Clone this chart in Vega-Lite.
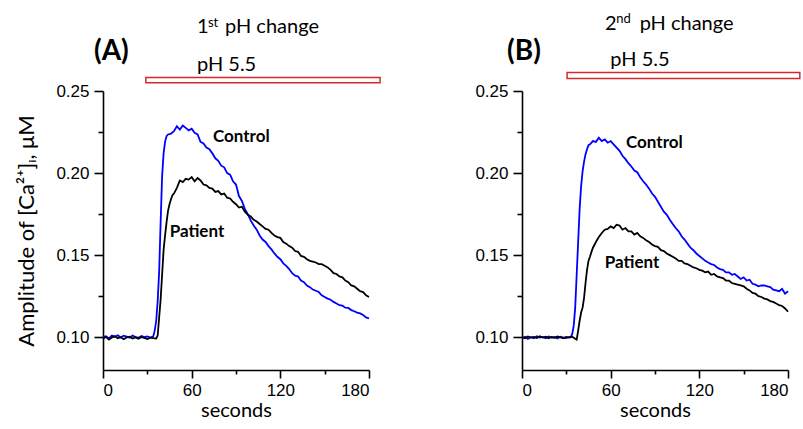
{
  "$schema": "https://vega.github.io/schema/vega-lite/v6.json",
  "padding": {"left": 15, "top": 12, "right": 0, "bottom": 0},
  "background": "white",
  "config": {
    "view": {"stroke": null},
    "axis": {"grid": false, "domainColor": "#000", "tickColor": "#000", "domainWidth": 1.6, "tickWidth": 1.6, "labelColor": "#000", "titleColor": "#000", "labelFont": "Liberation Sans", "labelFontSize": 17, "titleFont": "Lato", "titleFontWeight": "normal"}
  },
  "datasets": {
    "A": [
      {"g":"Control","t":0,"v":0.1000},{"g":"Control","t":2,"v":0.1006},{"g":"Control","t":4,"v":0.0992},{"g":"Control","t":6,"v":0.1010},{"g":"Control","t":8,"v":0.1003},{"g":"Control","t":10,"v":0.1012},{"g":"Control","t":12,"v":0.0998},{"g":"Control","t":14,"v":0.1009},{"g":"Control","t":16,"v":0.1004},{"g":"Control","t":18,"v":0.0996},{"g":"Control","t":20,"v":0.1010},{"g":"Control","t":22,"v":0.1001},{"g":"Control","t":24,"v":0.0997},{"g":"Control","t":26,"v":0.1007},{"g":"Control","t":28,"v":0.1000},{"g":"Control","t":30,"v":0.1004},{"g":"Control","t":32,"v":0.0998},{"g":"Control","t":34,"v":0.1005},
      {"g":"Control","t":35,"v":0.104},{"g":"Control","t":36,"v":0.110},{"g":"Control","t":37,"v":0.122},{"g":"Control","t":38,"v":0.140},{"g":"Control","t":39,"v":0.170},{"g":"Control","t":40,"v":0.198},{"g":"Control","t":41,"v":0.212},{"g":"Control","t":42,"v":0.219},{"g":"Control","t":43,"v":0.2225},{"g":"Control","t":44,"v":0.2235},{"g":"Control","t":46,"v":0.224},{"g":"Control","t":48,"v":0.2255},{"g":"Control","t":50,"v":0.2285},{"g":"Control","t":52,"v":0.2265},{"g":"Control","t":54,"v":0.229},{"g":"Control","t":56,"v":0.2275},{"g":"Control","t":58,"v":0.226},{"g":"Control","t":60,"v":0.227},{"g":"Control","t":62,"v":0.2245},{"g":"Control","t":64,"v":0.2235},{"g":"Control","t":66,"v":0.219},{"g":"Control","t":68,"v":0.218},{"g":"Control","t":70,"v":0.2155},{"g":"Control","t":72,"v":0.2145},{"g":"Control","t":74,"v":0.212},{"g":"Control","t":76,"v":0.209},{"g":"Control","t":78,"v":0.2075},{"g":"Control","t":80,"v":0.2045},{"g":"Control","t":82,"v":0.2035},{"g":"Control","t":84,"v":0.200},{"g":"Control","t":86,"v":0.199},{"g":"Control","t":88,"v":0.195},{"g":"Control","t":90,"v":0.193},{"g":"Control","t":92,"v":0.186},{"g":"Control","t":94,"v":0.183},{"g":"Control","t":96,"v":0.178},{"g":"Control","t":98,"v":0.175},{"g":"Control","t":100,"v":0.171},{"g":"Control","t":102,"v":0.168},{"g":"Control","t":104,"v":0.1655},{"g":"Control","t":106,"v":0.162},{"g":"Control","t":108,"v":0.1595},{"g":"Control","t":110,"v":0.158},{"g":"Control","t":112,"v":0.1555},{"g":"Control","t":114,"v":0.1535},{"g":"Control","t":116,"v":0.151},{"g":"Control","t":118,"v":0.149},{"g":"Control","t":120,"v":0.1475},{"g":"Control","t":122,"v":0.145},{"g":"Control","t":124,"v":0.1435},{"g":"Control","t":126,"v":0.1415},{"g":"Control","t":128,"v":0.139},{"g":"Control","t":130,"v":0.1375},{"g":"Control","t":132,"v":0.137},{"g":"Control","t":134,"v":0.1345},{"g":"Control","t":136,"v":0.1335},{"g":"Control","t":138,"v":0.1315},{"g":"Control","t":140,"v":0.1305},{"g":"Control","t":142,"v":0.129},{"g":"Control","t":144,"v":0.1283},{"g":"Control","t":146,"v":0.1275},{"g":"Control","t":148,"v":0.1255},{"g":"Control","t":150,"v":0.1245},{"g":"Control","t":152,"v":0.1235},{"g":"Control","t":154,"v":0.1228},{"g":"Control","t":156,"v":0.1215},{"g":"Control","t":158,"v":0.1205},{"g":"Control","t":160,"v":0.1195},{"g":"Control","t":162,"v":0.1192},{"g":"Control","t":164,"v":0.118},{"g":"Control","t":166,"v":0.1178},{"g":"Control","t":168,"v":0.1165},{"g":"Control","t":170,"v":0.1158},{"g":"Control","t":172,"v":0.115},{"g":"Control","t":174,"v":0.1145},{"g":"Control","t":176,"v":0.1135},{"g":"Control","t":178,"v":0.112},{"g":"Control","t":180,"v":0.1115},
      {"g":"Patient","t":0,"v":0.0990},{"g":"Patient","t":2,"v":0.1002},{"g":"Patient","t":4,"v":0.0985},{"g":"Patient","t":6,"v":0.0998},{"g":"Patient","t":8,"v":0.1005},{"g":"Patient","t":10,"v":0.0993},{"g":"Patient","t":12,"v":0.1000},{"g":"Patient","t":14,"v":0.0988},{"g":"Patient","t":16,"v":0.0998},{"g":"Patient","t":18,"v":0.1003},{"g":"Patient","t":20,"v":0.0992},{"g":"Patient","t":22,"v":0.0999},{"g":"Patient","t":24,"v":0.0990},{"g":"Patient","t":26,"v":0.1001},{"g":"Patient","t":28,"v":0.0996},{"g":"Patient","t":30,"v":0.0989},{"g":"Patient","t":32,"v":0.0997},{"g":"Patient","t":34,"v":0.0994},{"g":"Patient","t":36,"v":0.0992},
      {"g":"Patient","t":37,"v":0.101},{"g":"Patient","t":38,"v":0.112},{"g":"Patient","t":39,"v":0.123},{"g":"Patient","t":40,"v":0.138},{"g":"Patient","t":41,"v":0.153},{"g":"Patient","t":42,"v":0.162},{"g":"Patient","t":43,"v":0.170},{"g":"Patient","t":44,"v":0.177},{"g":"Patient","t":45,"v":0.181},{"g":"Patient","t":46,"v":0.184},{"g":"Patient","t":47,"v":0.1865},{"g":"Patient","t":48,"v":0.1875},{"g":"Patient","t":50,"v":0.191},{"g":"Patient","t":52,"v":0.1955},{"g":"Patient","t":54,"v":0.1945},{"g":"Patient","t":56,"v":0.1965},{"g":"Patient","t":58,"v":0.196},{"g":"Patient","t":60,"v":0.1975},{"g":"Patient","t":62,"v":0.195},{"g":"Patient","t":64,"v":0.197},{"g":"Patient","t":66,"v":0.1955},{"g":"Patient","t":68,"v":0.193},{"g":"Patient","t":70,"v":0.1925},{"g":"Patient","t":72,"v":0.191},{"g":"Patient","t":74,"v":0.1905},{"g":"Patient","t":76,"v":0.1885},{"g":"Patient","t":78,"v":0.189},{"g":"Patient","t":80,"v":0.187},{"g":"Patient","t":82,"v":0.1875},{"g":"Patient","t":84,"v":0.185},{"g":"Patient","t":86,"v":0.1845},{"g":"Patient","t":88,"v":0.1825},{"g":"Patient","t":90,"v":0.181},{"g":"Patient","t":92,"v":0.179},{"g":"Patient","t":94,"v":0.1795},{"g":"Patient","t":96,"v":0.1765},{"g":"Patient","t":98,"v":0.1745},{"g":"Patient","t":100,"v":0.1735},{"g":"Patient","t":102,"v":0.1715},{"g":"Patient","t":104,"v":0.1705},{"g":"Patient","t":106,"v":0.169},{"g":"Patient","t":108,"v":0.1675},{"g":"Patient","t":110,"v":0.166},{"g":"Patient","t":112,"v":0.1655},{"g":"Patient","t":114,"v":0.1635},{"g":"Patient","t":116,"v":0.162},{"g":"Patient","t":118,"v":0.161},{"g":"Patient","t":120,"v":0.1605},{"g":"Patient","t":122,"v":0.158},{"g":"Patient","t":124,"v":0.157},{"g":"Patient","t":126,"v":0.1555},{"g":"Patient","t":128,"v":0.1545},{"g":"Patient","t":130,"v":0.1525},{"g":"Patient","t":132,"v":0.152},{"g":"Patient","t":134,"v":0.1495},{"g":"Patient","t":136,"v":0.149},{"g":"Patient","t":138,"v":0.1475},{"g":"Patient","t":140,"v":0.1465},{"g":"Patient","t":142,"v":0.146},{"g":"Patient","t":144,"v":0.1455},{"g":"Patient","t":146,"v":0.1445},{"g":"Patient","t":148,"v":0.1445},{"g":"Patient","t":150,"v":0.1435},{"g":"Patient","t":152,"v":0.1425},{"g":"Patient","t":154,"v":0.141},{"g":"Patient","t":156,"v":0.139},{"g":"Patient","t":158,"v":0.1385},{"g":"Patient","t":160,"v":0.137},{"g":"Patient","t":162,"v":0.1365},{"g":"Patient","t":164,"v":0.1345},{"g":"Patient","t":166,"v":0.1335},{"g":"Patient","t":168,"v":0.1315},{"g":"Patient","t":170,"v":0.131},{"g":"Patient","t":172,"v":0.1295},{"g":"Patient","t":174,"v":0.128},{"g":"Patient","t":176,"v":0.1275},{"g":"Patient","t":178,"v":0.1255},{"g":"Patient","t":180,"v":0.1245}
    ],
    "B": [
      {"g":"Control","t":0,"v":0.0995},{"g":"Control","t":2,"v":0.1003},{"g":"Control","t":4,"v":0.0990},{"g":"Control","t":6,"v":0.1000},{"g":"Control","t":8,"v":0.0994},{"g":"Control","t":10,"v":0.1006},{"g":"Control","t":12,"v":0.0998},{"g":"Control","t":14,"v":0.1002},{"g":"Control","t":16,"v":0.0993},{"g":"Control","t":18,"v":0.1004},{"g":"Control","t":20,"v":0.0997},{"g":"Control","t":22,"v":0.1001},{"g":"Control","t":24,"v":0.0992},{"g":"Control","t":26,"v":0.1003},{"g":"Control","t":28,"v":0.0998},{"g":"Control","t":30,"v":0.0995},{"g":"Control","t":32,"v":0.1002},{"g":"Control","t":33,"v":0.1000},
      {"g":"Control","t":34,"v":0.102},{"g":"Control","t":35,"v":0.107},{"g":"Control","t":36,"v":0.118},{"g":"Control","t":37,"v":0.138},{"g":"Control","t":38,"v":0.158},{"g":"Control","t":39,"v":0.178},{"g":"Control","t":40,"v":0.192},{"g":"Control","t":41,"v":0.201},{"g":"Control","t":42,"v":0.207},{"g":"Control","t":43,"v":0.2115},{"g":"Control","t":44,"v":0.2145},{"g":"Control","t":45,"v":0.217},{"g":"Control","t":46,"v":0.2175},{"g":"Control","t":48,"v":0.2195},{"g":"Control","t":50,"v":0.219},{"g":"Control","t":52,"v":0.2215},{"g":"Control","t":54,"v":0.2195},{"g":"Control","t":56,"v":0.2205},{"g":"Control","t":58,"v":0.2185},{"g":"Control","t":60,"v":0.2195},{"g":"Control","t":62,"v":0.2175},{"g":"Control","t":64,"v":0.2155},{"g":"Control","t":66,"v":0.2135},{"g":"Control","t":68,"v":0.2105},{"g":"Control","t":70,"v":0.2085},{"g":"Control","t":72,"v":0.206},{"g":"Control","t":74,"v":0.204},{"g":"Control","t":76,"v":0.2015},{"g":"Control","t":78,"v":0.2005},{"g":"Control","t":80,"v":0.1975},{"g":"Control","t":82,"v":0.195},{"g":"Control","t":84,"v":0.193},{"g":"Control","t":86,"v":0.1905},{"g":"Control","t":88,"v":0.1875},{"g":"Control","t":90,"v":0.1855},{"g":"Control","t":92,"v":0.1825},{"g":"Control","t":94,"v":0.1795},{"g":"Control","t":96,"v":0.1765},{"g":"Control","t":98,"v":0.1745},{"g":"Control","t":100,"v":0.1715},{"g":"Control","t":102,"v":0.169},{"g":"Control","t":104,"v":0.1665},{"g":"Control","t":106,"v":0.1645},{"g":"Control","t":108,"v":0.1615},{"g":"Control","t":110,"v":0.1595},{"g":"Control","t":112,"v":0.157},{"g":"Control","t":114,"v":0.1545},{"g":"Control","t":116,"v":0.153},{"g":"Control","t":118,"v":0.151},{"g":"Control","t":120,"v":0.1495},{"g":"Control","t":122,"v":0.148},{"g":"Control","t":124,"v":0.1465},{"g":"Control","t":126,"v":0.1455},{"g":"Control","t":128,"v":0.1445},{"g":"Control","t":130,"v":0.144},{"g":"Control","t":132,"v":0.1425},{"g":"Control","t":134,"v":0.1415},{"g":"Control","t":136,"v":0.141},{"g":"Control","t":138,"v":0.1395},{"g":"Control","t":140,"v":0.1395},{"g":"Control","t":142,"v":0.138},{"g":"Control","t":144,"v":0.1385},{"g":"Control","t":146,"v":0.137},{"g":"Control","t":148,"v":0.1355},{"g":"Control","t":150,"v":0.1365},{"g":"Control","t":152,"v":0.1345},{"g":"Control","t":154,"v":0.135},{"g":"Control","t":156,"v":0.1325},{"g":"Control","t":158,"v":0.132},{"g":"Control","t":160,"v":0.131},{"g":"Control","t":162,"v":0.1315},{"g":"Control","t":164,"v":0.1315},{"g":"Control","t":166,"v":0.131},{"g":"Control","t":168,"v":0.1305},{"g":"Control","t":170,"v":0.129},{"g":"Control","t":172,"v":0.1285},{"g":"Control","t":174,"v":0.128},{"g":"Control","t":176,"v":0.1295},{"g":"Control","t":178,"v":0.1265},{"g":"Control","t":180,"v":0.128},
      {"g":"Patient","t":0,"v":0.1000},{"g":"Patient","t":2,"v":0.0993},{"g":"Patient","t":4,"v":0.1004},{"g":"Patient","t":6,"v":0.0997},{"g":"Patient","t":8,"v":0.1002},{"g":"Patient","t":10,"v":0.0995},{"g":"Patient","t":12,"v":0.1006},{"g":"Patient","t":14,"v":0.0998},{"g":"Patient","t":16,"v":0.1003},{"g":"Patient","t":18,"v":0.0994},{"g":"Patient","t":20,"v":0.1001},{"g":"Patient","t":22,"v":0.0996},{"g":"Patient","t":24,"v":0.1004},{"g":"Patient","t":26,"v":0.0999},{"g":"Patient","t":28,"v":0.0993},{"g":"Patient","t":30,"v":0.1002},{"g":"Patient","t":32,"v":0.0997},{"g":"Patient","t":34,"v":0.1003},{"g":"Patient","t":36,"v":0.0990},
      {"g":"Patient","t":37,"v":0.0985},{"g":"Patient","t":38,"v":0.104},{"g":"Patient","t":39,"v":0.110},{"g":"Patient","t":40,"v":0.115},{"g":"Patient","t":41,"v":0.118},{"g":"Patient","t":42,"v":0.124},{"g":"Patient","t":43,"v":0.133},{"g":"Patient","t":44,"v":0.141},{"g":"Patient","t":45,"v":0.1465},{"g":"Patient","t":46,"v":0.149},{"g":"Patient","t":47,"v":0.152},{"g":"Patient","t":48,"v":0.1545},{"g":"Patient","t":50,"v":0.158},{"g":"Patient","t":52,"v":0.161},{"g":"Patient","t":54,"v":0.1635},{"g":"Patient","t":56,"v":0.1655},{"g":"Patient","t":58,"v":0.166},{"g":"Patient","t":60,"v":0.1675},{"g":"Patient","t":62,"v":0.1665},{"g":"Patient","t":64,"v":0.1685},{"g":"Patient","t":66,"v":0.168},{"g":"Patient","t":68,"v":0.1655},{"g":"Patient","t":70,"v":0.1665},{"g":"Patient","t":72,"v":0.1645},{"g":"Patient","t":74,"v":0.1645},{"g":"Patient","t":76,"v":0.1625},{"g":"Patient","t":78,"v":0.1635},{"g":"Patient","t":80,"v":0.1615},{"g":"Patient","t":82,"v":0.1605},{"g":"Patient","t":84,"v":0.159},{"g":"Patient","t":86,"v":0.158},{"g":"Patient","t":88,"v":0.1565},{"g":"Patient","t":90,"v":0.1555},{"g":"Patient","t":92,"v":0.155},{"g":"Patient","t":94,"v":0.153},{"g":"Patient","t":96,"v":0.1525},{"g":"Patient","t":98,"v":0.151},{"g":"Patient","t":100,"v":0.15},{"g":"Patient","t":102,"v":0.149},{"g":"Patient","t":104,"v":0.148},{"g":"Patient","t":106,"v":0.1465},{"g":"Patient","t":108,"v":0.1465},{"g":"Patient","t":110,"v":0.145},{"g":"Patient","t":112,"v":0.1445},{"g":"Patient","t":114,"v":0.1435},{"g":"Patient","t":116,"v":0.1425},{"g":"Patient","t":118,"v":0.142},{"g":"Patient","t":120,"v":0.141},{"g":"Patient","t":122,"v":0.1405},{"g":"Patient","t":124,"v":0.1395},{"g":"Patient","t":126,"v":0.14},{"g":"Patient","t":128,"v":0.138},{"g":"Patient","t":130,"v":0.1385},{"g":"Patient","t":132,"v":0.137},{"g":"Patient","t":134,"v":0.1365},{"g":"Patient","t":136,"v":0.136},{"g":"Patient","t":138,"v":0.1345},{"g":"Patient","t":140,"v":0.1345},{"g":"Patient","t":142,"v":0.133},{"g":"Patient","t":144,"v":0.1325},{"g":"Patient","t":146,"v":0.132},{"g":"Patient","t":148,"v":0.1315},{"g":"Patient","t":150,"v":0.131},{"g":"Patient","t":152,"v":0.1295},{"g":"Patient","t":154,"v":0.1285},{"g":"Patient","t":156,"v":0.127},{"g":"Patient","t":158,"v":0.1265},{"g":"Patient","t":160,"v":0.125},{"g":"Patient","t":162,"v":0.1245},{"g":"Patient","t":164,"v":0.1235},{"g":"Patient","t":166,"v":0.123},{"g":"Patient","t":168,"v":0.122},{"g":"Patient","t":170,"v":0.1215},{"g":"Patient","t":172,"v":0.1205},{"g":"Patient","t":174,"v":0.1195},{"g":"Patient","t":176,"v":0.119},{"g":"Patient","t":178,"v":0.1175},{"g":"Patient","t":180,"v":0.1155}
    ]
  },
  "bounds": "flush",
  "spacing": 153,
  "hconcat": [
    {
      "width": 266, "height": 279,
      "resolve": {"axis": {"x": "independent", "y": "independent"}},
      "layer": [
        {
          "data": {"name": "A"},
          "mark": {"type": "line", "strokeWidth": 1.8},
          "encoding": {
            "x": {"field": "t", "type": "quantitative", "scale": {"domain": [0, 180], "nice": false}, "axis": {"values": [0, 60, 120, 180], "tickSize": 8, "labelPadding": 4, "title": "seconds", "titleFontSize": 20, "titlePadding": 2}},
            "y": {"field": "v", "type": "quantitative", "scale": {"domain": [0.08, 0.25], "nice": false, "zero": false}, "axis": {"values": [0.10, 0.15, 0.20, 0.25], "format": ".2f", "tickSize": 9, "labelPadding": 5, "title": "Amplitude of [Ca²⁺]ᵢ, μM", "titleFontSize": 22, "titlePadding": 17}},
            "color": {"field": "g", "type": "nominal", "scale": {"domain": ["Control", "Patient"], "range": ["#0000ff", "#000000"]}, "legend": null},
            "order": {"field": "t", "type": "quantitative"}
          }
        },
        {
          "data": {"name": "A"},
          "mark": {"type": "point", "opacity": 0},
          "encoding": {
            "x": {"field": "t", "type": "quantitative", "axis": {"orient": "bottom", "values": [30, 90, 150], "tickSize": 4, "labels": false, "domain": false, "title": null}},
            "y": {"field": "v", "type": "quantitative", "axis": {"orient": "left", "values": [0.125, 0.175, 0.225], "tickSize": 5, "labels": false, "domain": false, "title": null}}
          }
        },
        {
          "data": {"values": [{"start": 29, "end": 187.5, "lo": 0.2551, "hi": 0.2582}]},
          "mark": {"type": "rect", "fill": "white", "stroke": "#d42a2a", "strokeWidth": 1.5},
          "encoding": {
            "x": {"field": "start", "type": "quantitative", "axis": null}, "x2": {"field": "end"},
            "y": {"field": "lo", "type": "quantitative", "axis": null}, "y2": {"field": "hi"}
          }
        },
        {
          "data": {"values": [{"t": -6.1, "v": 0.2691, "label": "(A)"}]},
          "mark": {"type": "text", "font": "Lato", "fontSize": 28, "fontWeight": "bold", "align": "left", "baseline": "alphabetic", "color": "#000"},
          "encoding": {"x": {"field": "t", "type": "quantitative", "axis": null}, "y": {"field": "v", "type": "quantitative", "axis": null}, "text": {"field": "label"}}
        },
        {
          "data": {"values": [{"t": 63.6, "v": 0.2856, "label": "1"}, {"t": 82.6, "v": 0.2856, "label": "pH change"}, {"t": 63.6, "v": 0.2624, "label": "pH 5.5"}]},
          "mark": {"type": "text", "font": "Lato", "fontSize": 20, "align": "left", "baseline": "alphabetic", "color": "#000"},
          "encoding": {"x": {"field": "t", "type": "quantitative", "axis": null}, "y": {"field": "v", "type": "quantitative", "axis": null}, "text": {"field": "label"}}
        },
        {
          "data": {"values": [{"t": 71, "v": 0.2893, "label": "st"}]},
          "mark": {"type": "text", "font": "Lato", "fontSize": 13, "align": "left", "baseline": "alphabetic", "color": "#000"},
          "encoding": {"x": {"field": "t", "type": "quantitative", "axis": null}, "y": {"field": "v", "type": "quantitative", "axis": null}, "text": {"field": "label"}}
        },
        {
          "data": {"values": [{"t": 74.4, "v": 0.2191, "label": "Control"}, {"t": 45.1, "v": 0.1611, "label": "Patient"}]},
          "mark": {"type": "text", "font": "Lato", "fontSize": 17, "fontWeight": "bold", "align": "left", "baseline": "alphabetic", "color": "#000"},
          "encoding": {"x": {"field": "t", "type": "quantitative", "axis": null}, "y": {"field": "v", "type": "quantitative", "axis": null}, "text": {"field": "label"}}
        }
      ]
    },
    {
      "width": 266, "height": 279,
      "resolve": {"axis": {"x": "independent", "y": "independent"}},
      "layer": [
        {
          "data": {"name": "B"},
          "mark": {"type": "line", "strokeWidth": 1.8},
          "encoding": {
            "x": {"field": "t", "type": "quantitative", "scale": {"domain": [0, 180], "nice": false}, "axis": {"values": [0, 60, 120, 180], "tickSize": 8, "labelPadding": 4, "title": "seconds", "titleFontSize": 20, "titlePadding": 2}},
            "y": {"field": "v", "type": "quantitative", "scale": {"domain": [0.08, 0.25], "nice": false, "zero": false}, "axis": {"values": [0.10, 0.15, 0.20, 0.25], "format": ".2f", "tickSize": 9, "labelPadding": 5, "title": null}},
            "color": {"field": "g", "type": "nominal", "scale": {"domain": ["Control", "Patient"], "range": ["#0000ff", "#000000"]}, "legend": null},
            "order": {"field": "t", "type": "quantitative"}
          }
        },
        {
          "data": {"name": "B"},
          "mark": {"type": "point", "opacity": 0},
          "encoding": {
            "x": {"field": "t", "type": "quantitative", "axis": {"orient": "bottom", "values": [30, 90, 150], "tickSize": 4, "labels": false, "domain": false, "title": null}},
            "y": {"field": "v", "type": "quantitative", "axis": {"orient": "left", "values": [0.125, 0.175, 0.225], "tickSize": 5, "labels": false, "domain": false, "title": null}}
          }
        },
        {
          "data": {"values": [{"start": 30.5, "end": 188, "lo": 0.2576, "hi": 0.2612}]},
          "mark": {"type": "rect", "fill": "white", "stroke": "#d42a2a", "strokeWidth": 1.5},
          "encoding": {
            "x": {"field": "start", "type": "quantitative", "axis": null}, "x2": {"field": "end"},
            "y": {"field": "lo", "type": "quantitative", "axis": null}, "y2": {"field": "hi"}
          }
        },
        {
          "data": {"values": [{"t": -10.1, "v": 0.2691, "label": "(B)"}]},
          "mark": {"type": "text", "font": "Lato", "fontSize": 28, "fontWeight": "bold", "align": "left", "baseline": "alphabetic", "color": "#000"},
          "encoding": {"x": {"field": "t", "type": "quantitative", "axis": null}, "y": {"field": "v", "type": "quantitative", "axis": null}, "text": {"field": "label"}}
        },
        {
          "data": {"values": [{"t": 56.2, "v": 0.2874, "label": "2"}, {"t": 79.6, "v": 0.2874, "label": "pH change"}, {"t": 59.8, "v": 0.2651, "label": "pH 5.5"}]},
          "mark": {"type": "text", "font": "Lato", "fontSize": 20, "align": "left", "baseline": "alphabetic", "color": "#000"},
          "encoding": {"x": {"field": "t", "type": "quantitative", "axis": null}, "y": {"field": "v", "type": "quantitative", "axis": null}, "text": {"field": "label"}}
        },
        {
          "data": {"values": [{"t": 63.8, "v": 0.2917, "label": "nd"}]},
          "mark": {"type": "text", "font": "Lato", "fontSize": 13, "align": "left", "baseline": "alphabetic", "color": "#000"},
          "encoding": {"x": {"field": "t", "type": "quantitative", "axis": null}, "y": {"field": "v", "type": "quantitative", "axis": null}, "text": {"field": "label"}}
        },
        {
          "data": {"values": [{"t": 70.4, "v": 0.2154, "label": "Control"}, {"t": 56, "v": 0.1422, "label": "Patient"}]},
          "mark": {"type": "text", "font": "Lato", "fontSize": 17, "fontWeight": "bold", "align": "left", "baseline": "alphabetic", "color": "#000"},
          "encoding": {"x": {"field": "t", "type": "quantitative", "axis": null}, "y": {"field": "v", "type": "quantitative", "axis": null}, "text": {"field": "label"}}
        }
      ]
    }
  ]
}
